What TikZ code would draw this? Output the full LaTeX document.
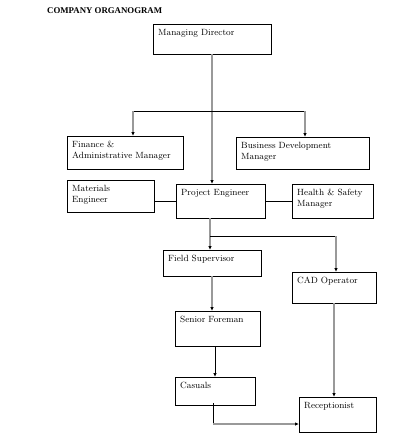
\documentclass[tikz,border=0pt]{standalone}
\usepackage{fontspec}
\newfontfamily\titlefont{Liberation Serif}
\usetikzlibrary{arrows.meta}
\begin{document}
\begin{tikzpicture}[x=1pt, y=-1pt, font=\fontsize{9}{11}\selectfont,
		box/.style={draw, line width=0.9pt, anchor=north west, outer sep=0pt},
		lbl/.style={anchor=north west, align=left, inner xsep=5pt, inner ysep=5pt},
		gline/.style={black!40, line width=1.9pt},
		bline/.style={black, line width=0.8pt},
		tip/.style={-{Latex[length=4pt, width=3.5pt, color=black]}}]
		\useasboundingbox (0,0) rectangle (415,437);

		\node[anchor=north west, inner sep=0pt, font=\titlefont\fontsize{8.8}{10}\selectfont\bfseries] (title) at (47,7) {COMPANY ORGANOGRAM};

		\node[box, minimum width=118, minimum height=30, label={[lbl]north west:Managing Director}] (md) at (153,24) {};
		\node[box, minimum width=116, minimum height=33, label={[lbl]north west:{Finance \&\\Administrative Manager}}] (fin) at (67,136) {};
		\node[box, minimum width=133, minimum height=32, label={[lbl]north west:{Business Development\\Manager}}] (bd) at (236,137) {};
		\node[box, minimum width=87, minimum height=32, label={[lbl]north west:{Materials\\Engineer}}] (mat) at (67,180) {};
		\node[box, minimum width=89, minimum height=34, label={[lbl]north west:Project Engineer}] (pe) at (176,184) {};
		\node[box, minimum width=81, minimum height=34, label={[lbl]north west:{Health \& Safety\\Manager}}] (hs) at (292,184) {};
		\node[box, minimum width=98, minimum height=26, label={[lbl]north west:Field Supervisor}] (fs) at (163,250) {};
		\node[box, minimum width=84, minimum height=31, label={[lbl]north west:CAD Operator}] (cad) at (292,272) {};
		\node[box, minimum width=85, minimum height=35, label={[lbl]north west:Senior Foreman}] (sf) at (175,311) {};
		\node[box, minimum width=80, minimum height=28, label={[lbl]north west:Casuals}] (cas) at (175,377) {};
		\node[box, minimum width=77, minimum height=35, label={[lbl]north west:Receptionist}] (rec) at (299,397) {};

		\coordinate (fa) at (133,111);
		\coordinate (ba) at (305,111);
		\coordinate (pj) at (210,236);
		\coordinate (cj) at (336,236);
		\coordinate (cr) at (213,424);

		% top level
		\draw[gline, tip] (md.south) -- (md.south |- pe.north);
		\draw[bline] (fa) -- (ba);
		\draw[gline, tip] (fa) -- (fa |- fin.north);
		\draw[gline, tip] (ba) -- (ba |- bd.north);
		\draw[bline] (pe.west) -- (pe.west -| mat.east);
		\draw[bline] (pe.east) -- (hs.west);

		% site
		\draw[gline] (pj |- pe.south) -- (pj);
		\draw[gline, tip] (pj) -- (pj |- fs.north);
		\draw[bline] (pj) -- (cj);
		\draw[gline, tip] (cj) -- (cj |- cad.north);
		\draw[gline, tip] (fs.south) -- (fs.south |- sf.north);
		\draw[bline, tip] (cas.north |- sf.south) -- (cas.north);
		\draw[gline, tip] (cad.south) -- (cad.south |- rec.north);
		\draw[bline] ([yshift=2]cas.south -| cr) -- (cr);
		\draw[gline, tip] (cr) -- (cr -| rec.west);
	\end{tikzpicture}
\end{document}
